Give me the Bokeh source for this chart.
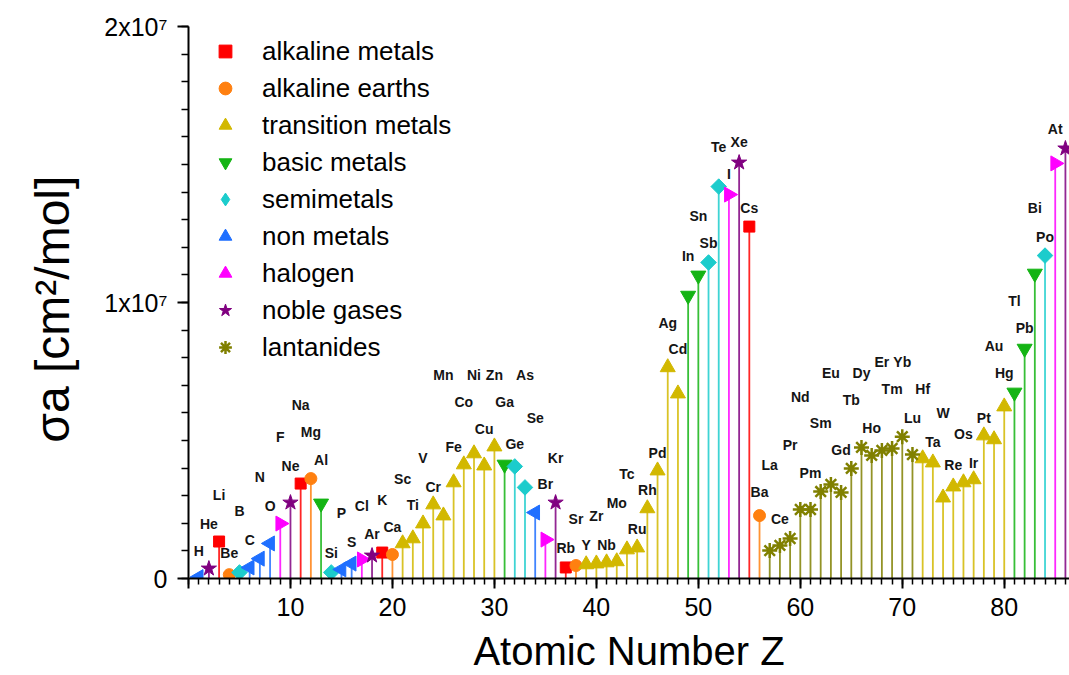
import math
from bokeh.plotting import figure
from bokeh.models import (ColumnDataSource, Range1d, SingleIntervalTicker,
                          CustomJSTickFormatter, Legend, LegendItem)
from bokeh.core.properties import value
from bokeh.embed import file_html
from bokeh.resources import INLINE

# ---------------- data ----------------
symbols = ["H", "He", "Li", "Be", "B", "C", "N", "O", "F", "Ne",
           "Na", "Mg", "Al", "Si", "P", "S", "Cl", "Ar", "K", "Ca",
           "Sc", "Ti", "V", "Cr", "Mn", "Fe", "Co", "Ni", "Cu", "Zn",
           "Ga", "Ge", "As", "Se", "Br", "Kr", "Rb", "Sr", "Y", "Zr",
           "Nb", "Mo", "Tc", "Ru", "Rh", "Pd", "Ag", "Cd", "In", "Sn",
           "Sb", "Te", "I", "Xe", "Cs", "Ba", "La", "Ce", "Pr", "Nd",
           "Pm", "Sm", "Eu", "Gd", "Tb", "Dy", "Ho", "Er", "Tm", "Yb",
           "Lu", "Hf", "Ta", "W", "Re", "Os", "Ir", "Pt", "Au", "Hg",
           "Tl", "Pb", "Bi", "Po", "At", "Rn"]

# sigma_a in units of 1e6 cm^2/mol
sigma_1e6 = [0.05, 0.36, 1.34, 0.14, 0.22, 0.40, 0.72, 1.27, 1.99, 2.75,
             3.44, 3.62, 2.72, 0.22, 0.33, 0.54, 0.69, 0.83, 0.94, 0.87,
             1.27, 1.45, 1.99, 2.68, 2.28, 3.48, 4.13, 4.53, 4.09, 4.78,
             4.13, 4.06, 3.30, 2.39, 1.41, 2.75, 0.40, 0.47, 0.51, 0.54,
             0.58, 0.62, 1.05, 1.12, 2.54, 3.91, 7.65, 6.70, 10.25, 10.98,
             11.45, 14.20, 13.91, 15.07, 12.75, 2.28, 1.01, 1.20, 1.45, 2.50,
             2.50, 3.15, 3.41, 3.12, 3.99, 4.75, 4.46, 4.64, 4.71, 5.14,
             4.49, 4.35, 4.20, 2.93, 3.33, 3.48, 3.59, 5.18, 5.04, 6.23,
             6.74, 8.33, 11.05, 11.70, 15.04, 15.58]

categories = ["alkaline metals", "alkaline earths", "transition metals",
              "basic metals", "semimetals", "non metals", "halogen",
              "noble gases", "lantanides"]

# category index of each element
groups = [5, 7, 0, 1, 4, 5, 5, 5, 6, 7,
          0, 1, 3, 4, 5, 5, 6, 7, 0, 1,
          2, 2, 2, 2, 2, 2, 2, 2, 2, 2,
          3, 4, 4, 5, 6, 7, 0, 1, 2, 2,
          2, 2, 2, 2, 2, 2, 2, 2, 3, 3,
          4, 4, 6, 7, 0, 1, 8, 8, 8, 8,
          8, 8, 8, 8, 8, 8, 8, 8, 8, 8,
          8, 2, 2, 2, 2, 2, 2, 2, 2, 2,
          3, 3, 3, 4, 6, 7]

# height (1e6 units) at which each element symbol is written (None = not shown)
label_y_1e6 = [1.01, 1.99, 3.01, 0.91, 2.43, 1.41, 3.66, 2.61, 5.14, 4.09,
               6.27, 5.29, 4.28, 0.94, 2.39, 1.34, 2.61, 1.63, 2.86, 1.88,
               3.62, 2.68, 4.35, 3.33, 7.36, 4.75, 6.38, 7.36, 5.40, 7.36,
               6.38, 4.86, 7.36, 5.80, 3.41, 4.38, 1.12, 2.17, 1.20, 2.25,
               1.23, 2.75, 3.77, 1.81, 3.19, 4.53, 9.24, 8.30, 11.70, 13.12,
               12.14, 15.62, 14.64, 15.83, 13.44, 3.12, 4.13, 2.14, 4.82, 6.59,
               3.84, 5.65, 7.43, 4.67, 6.45, 7.43, 5.47, 7.83, 6.85, 7.83,
               5.80, 6.85, 4.93, 5.98, 4.13, 5.25, 4.20, 5.83, 8.44, 7.43,
               10.07, 9.06, 13.41, 12.39, 16.27, None]

# ---------------- styles ----------------
colors = ["#FF0000", "#FF8010", "#D2B800", "#14B414", "#1CCCCC",
          "#1F6FFF", "#FF00FF", "#800080", "#808000"]
marker_style = [
    dict(marker="square", size=11, angle=0.0),
    dict(marker="circle", size=12, angle=0.0),
    dict(marker="triangle", size=15, angle=0.0),
    dict(marker="inverted_triangle", size=15, angle=0.0),
    dict(marker="square", size=11, angle=math.pi / 4),
    dict(marker="triangle", size=15, angle=math.pi / 2),
    dict(marker="triangle", size=15, angle=-math.pi / 2),
    dict(marker="star", size=16, angle=0.0),
    dict(marker="asterisk", size=15, angle=0.0),
]

FONT = "Liberation Sans"

p = figure(width=1069, height=675,
           x_range=Range1d(0, 86.4), y_range=Range1d(0, 2e7),
           output_backend="svg", toolbar_location=None,
           min_border_left=188, min_border_right=0,
           min_border_top=26, min_border_bottom=97)
p.xgrid.visible = False
p.ygrid.visible = False
p.outline_line_color = None
p.background_fill_color = "white"
p.border_fill_color = "white"

Z = list(range(1, len(symbols) + 1))
sigma = [v * 1e6 for v in sigma_1e6]

for gi, cat in enumerate(categories):
    idx = [i for i, g in enumerate(groups) if g == gi]
    src = ColumnDataSource(dict(
        x=[Z[i] for i in idx],
        y0=[0.0 for i in idx],
        y=[sigma[i] for i in idx],
    ))
    p.segment(x0="x", y0="y0", x1="x", y1="y", source=src,
              line_color=colors[gi], line_width=1.8, line_alpha=0.85)

legend_items = []
for gi, cat in enumerate(categories):
    idx = [i for i, g in enumerate(groups) if g == gi]
    src = ColumnDataSource(dict(
        x=[Z[i] for i in idx],
        y=[sigma[i] for i in idx],
    ))
    st = marker_style[gi]
    if st["marker"] == "asterisk":
        r = p.scatter(x="x", y="y", source=src, marker=st["marker"], size=st["size"],
                      line_color=colors[gi], line_width=2.5)
    else:
        r = p.scatter(x="x", y="y", source=src, marker=st["marker"], size=st["size"],
                      angle=st["angle"], fill_color=colors[gi], line_color=colors[gi])
    leg_r = r
    if cat == "semimetals":
        # legend glyphs are never rotated: hidden diamond renderer as swatch
        leg_r = p.scatter(x="x", y="y", source=src, marker="diamond", size=st["size"],
                          fill_color=colors[gi], line_color=colors[gi], visible=False)
    legend_items.append(LegendItem(label=cat, renderers=[leg_r]))

lab_idx = [i for i, ly in enumerate(label_y_1e6) if ly is not None]
lab_src = ColumnDataSource(dict(
    x=[Z[i] for i in lab_idx],
    y=[label_y_1e6[i] * 1e6 for i in lab_idx],
    text=[symbols[i] for i in lab_idx],
))
p.text(x="x", y="y", text="text", source=lab_src,
       text_font=value(FONT), text_font_style="bold", text_font_size="14px",
       text_align="center", text_baseline="middle", text_color="#151515")

# ---------------- axes ----------------
for ax in (p.xaxis[0], p.yaxis[0]):
    ax.axis_line_width = 2
    ax.axis_line_color = "black"
    ax.major_tick_line_width = 2
    ax.minor_tick_line_width = 1.5
    ax.major_tick_line_color = "black"
    ax.minor_tick_line_color = "black"
    ax.major_tick_in = 0
    ax.minor_tick_in = 0
    ax.major_label_text_font = FONT
    ax.major_label_text_font_size = "25px"
    ax.major_label_text_color = "black"
    ax.axis_label_text_font = FONT
    ax.axis_label_text_font_style = "normal"
    ax.axis_label_text_color = "black"

p.xaxis.ticker = SingleIntervalTicker(interval=10, num_minor_ticks=10)
p.xaxis.formatter = CustomJSTickFormatter(code="return tick == 0 ? '' : tick.toFixed(0);")
p.xaxis.major_tick_out = 10
p.xaxis.minor_tick_out = 6
p.xaxis.major_label_standoff = 9
p.xaxis.axis_label = "Atomic Number Z"
p.xaxis.axis_label_text_font_size = "40px"
p.xaxis.axis_label_standoff = 10

p.yaxis.ticker = SingleIntervalTicker(interval=1e7, num_minor_ticks=10)
p.yaxis.formatter = CustomJSTickFormatter(
    code="return tick == 0 ? '0' : (tick/1e7).toFixed(0) + 'x10\u2077';")
p.yaxis.major_tick_out = 11
p.yaxis.minor_tick_out = 7
p.yaxis.major_label_standoff = 10
p.yaxis.axis_label = "σa  [cm²/mol]"
p.yaxis.axis_label_text_font_size = "48px"
p.yaxis.axis_label_standoff = 22

# ---------------- legend ----------------
lg = Legend(items=legend_items, location=(21, 215))
lg.padding = 0
lg.margin = 0
lg.spacing = 5
lg.glyph_width = 32
lg.glyph_height = 32
lg.label_standoff = 21
lg.label_text_font = FONT
lg.label_text_font_size = "26px"
lg.label_text_color = "black"
lg.border_line_color = None
lg.background_fill_alpha = 0
lg.inactive_fill_alpha = 0
p.add_layout(lg)

open("out.html", "w").write(file_html(p, INLINE))
